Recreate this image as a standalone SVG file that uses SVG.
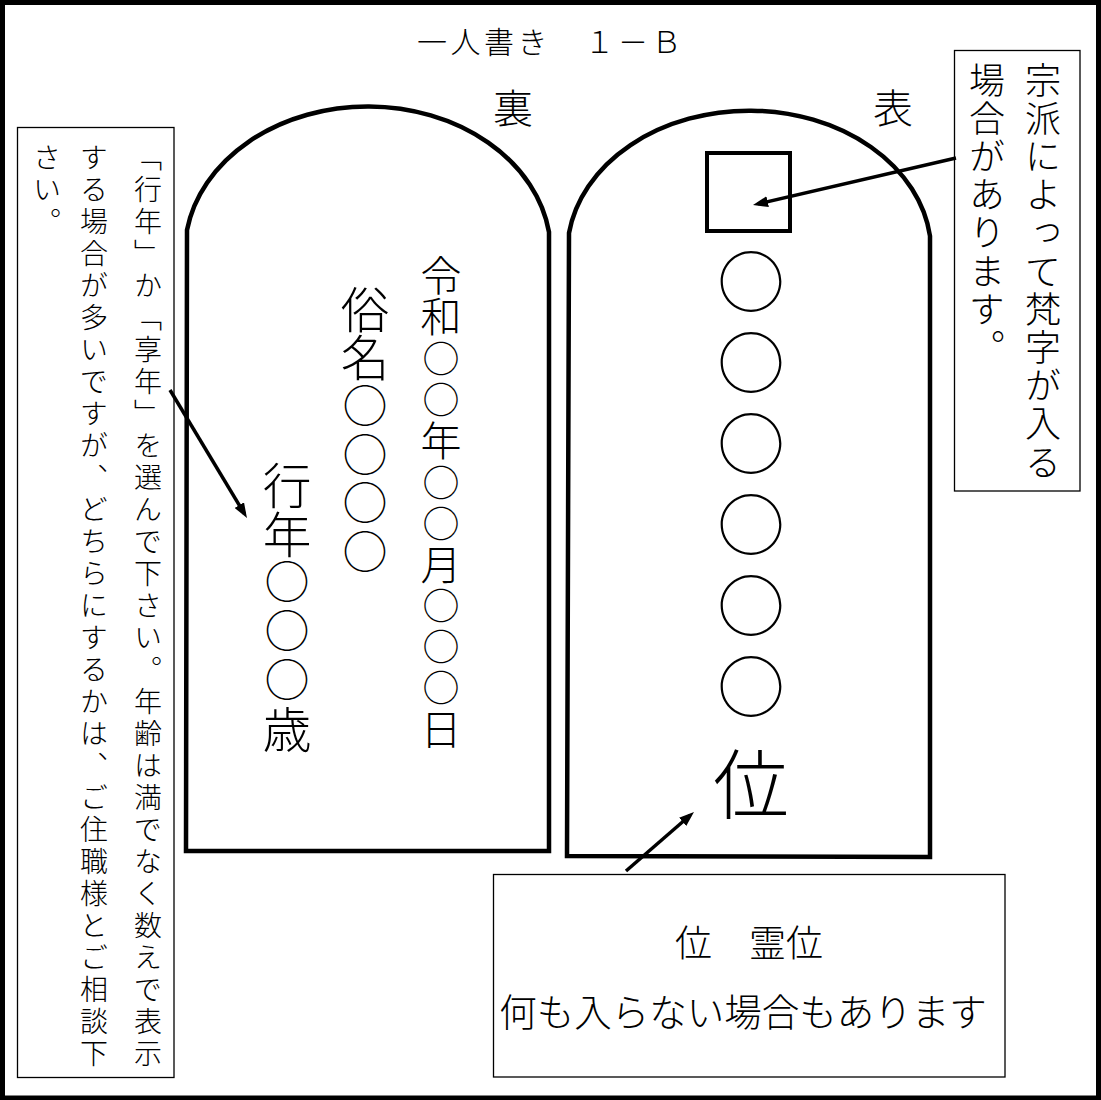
<svg xmlns="http://www.w3.org/2000/svg" width="1101" height="1100" viewBox="0 0 1101 1100">
<style>
text { font-family: "Noto Sans CJK JP", "Noto Sans CJK SC", sans-serif; font-weight: 300; fill: #000; }
.v { writing-mode: vertical-rl; }
.box { fill: #fff; stroke: #000; stroke-width: 1.3; }
.tab { fill: #fff; stroke: #000; stroke-width: 4.5; stroke-linejoin: miter; }
.arr { stroke: #000; stroke-width: 3.5; fill: none; marker-end: url(#ah); }
</style>
<defs>
<marker id="ah" markerUnits="userSpaceOnUse" viewBox="0 0 15 11" refX="10" refY="5.5" markerWidth="15" markerHeight="11" orient="auto">
<path d="M0,0 L15,5.5 L0,11 z" fill="#000"/>
</marker>
</defs>
<rect x="0" y="0" width="1101" height="1100" fill="#fff"/>
<rect x="2.5" y="2.5" width="1096" height="1095.5" fill="none" stroke="#000" stroke-width="5"/>

<g id="title">
<text x="417" y="53" font-size="30" letter-spacing="3.5" xml:space="preserve">一人書き　１－Ｂ</text>
</g>
<g id="label-ura"><text x="513" y="123" font-size="40" text-anchor="middle">裏</text></g>
<g id="label-omote"><text x="893" y="123" font-size="40" text-anchor="middle">表</text></g>

<g id="tablet-back">
<path class="tab" d="M187,230 A183,146 0 0 1 549,232 L549,851 L186,851 Z"/>
<text class="v" x="441" y="255" font-size="41" letter-spacing="0.3">令和<tspan font-size="37" letter-spacing="4.3" dy="2.15">○○</tspan><tspan dy="-2.15">年</tspan><tspan font-size="37" letter-spacing="4.3" dy="2.15">○○</tspan><tspan dy="-2.15">月</tspan><tspan font-size="37" letter-spacing="4.3" dy="2.15">○○○</tspan><tspan dy="-2.15">日</tspan></text>
<text class="v" x="365" y="285" font-size="48.5">俗名<tspan font-size="45" letter-spacing="3.5" dy="1.75">○○○○</tspan></text>
<text class="v" x="287" y="461" font-size="48.7">行年<tspan font-size="45" letter-spacing="3.7" dy="1.85">○○○</tspan><tspan dy="-1.85">歳</tspan></text>
</g>

<g id="tablet-front">
<path class="tab" d="M569,233 A182,142 0 0 1 930,236 L930,857 L567,856 Z"/>
<rect x="707" y="153" width="83" height="78" fill="none" stroke="#000" stroke-width="4"/>
<text class="v" x="751" y="241" font-size="67.5" letter-spacing="13.5"><tspan dy="6.75">○○○○○○</tspan><tspan font-size="76" letter-spacing="0" dy="12">位</tspan></text>
</g>

<g id="note-left">
<rect class="box" x="17.5" y="127.5" width="156.5" height="950"/>
<text class="v" x="148" y="143" font-size="28" letter-spacing="4">「行年」か「享年」を選んで下さい。年齢は満でなく数えで表示</text>
<text class="v" x="94" y="143" font-size="28" letter-spacing="4">する場合が多いですが、どちらにするかは、ご住職様とご相談下</text>
<text class="v" x="47" y="143" font-size="28" letter-spacing="4">さい。</text>
</g>

<g id="note-right">
<rect class="box" x="954.5" y="50.5" width="125.5" height="440.5"/>
<text class="v" x="1043" y="62" font-size="36" letter-spacing="2.2">宗派によって梵字が入る</text>
<text class="v" x="987" y="62" font-size="36" letter-spacing="2.2">場合があります。</text>
</g>

<g id="note-bottom">
<rect class="box" x="493.5" y="874.5" width="511.5" height="202.5"/>
<text x="749" y="957" font-size="37" text-anchor="middle" xml:space="preserve">位　霊位</text>
<text x="743" y="1026" font-size="37.5" text-anchor="middle">何も入らない場合もあります</text>
</g>

<g id="connectors">
<line class="arr" x1="170" y1="390" x2="244.4" y2="513.7"/>
<line class="arr" x1="956" y1="158" x2="757.9" y2="203.9"/>
<line class="arr" x1="626" y1="871" x2="690.2" y2="815.3"/>
</g>
</svg>
